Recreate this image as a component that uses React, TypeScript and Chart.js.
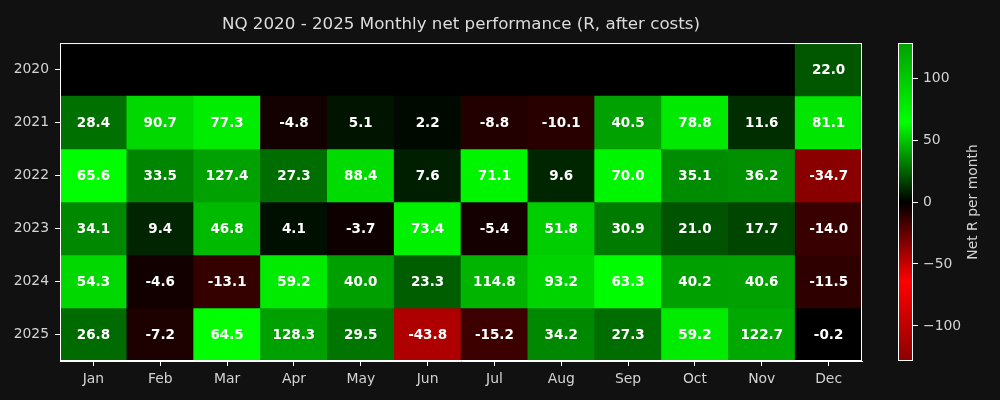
import React, { useEffect, useRef } from "react";
import { Chart, registerables } from "chart.js";

Chart.register(...registerables);

const months = ["Jan", "Feb", "Mar", "Apr", "May", "Jun", "Jul", "Aug", "Sep", "Oct", "Nov", "Dec"];
const years = ["2020", "2021", "2022", "2023", "2024", "2025"];

const r2020: (number | null)[] = [null, null, null, null, null, null, null, null, null, null, null, 22.0];
const r2021: (number | null)[] = [28.4, 90.7, 77.3, -4.8, 5.1, 2.2, -8.8, -10.1, 40.5, 78.8, 11.6, 81.1];
const r2022: (number | null)[] = [65.6, 33.5, 127.4, 27.3, 88.4, 7.6, 71.1, 9.6, 70.0, 35.1, 36.2, -34.7];
const r2023: (number | null)[] = [34.1, 9.4, 46.8, 4.1, -3.7, 73.4, -5.4, 51.8, 30.9, 21.0, 17.7, -14.0];
const r2024: (number | null)[] = [54.3, -4.6, -13.1, 59.2, 40.0, 23.3, 114.8, 93.2, 63.3, 40.2, 40.6, -11.5];
const r2025: (number | null)[] = [26.8, -7.2, 64.5, 128.3, 29.5, -43.8, -15.2, 34.2, 27.3, 59.2, 122.7, -0.2];
const rows = [r2020, r2021, r2022, r2023, r2024, r2025];

const colorbarTicks = [-100, -50, 0, 50, 100];

const VMAX = Math.max(...rows.flat().filter((v): v is number => v !== null).map((v) => Math.abs(v)));
const VMIN = -VMAX;

const STOPS: [number, number[]][] = [
  [0, [139, 0, 0]],
  [0.25, [255, 0, 0]],
  [0.5, [0, 0, 0]],
  [0.75, [0, 255, 0]],
  [1, [0, 160, 0]],
];
const STOP_HEX = ["#8b0000", "#ff0000", "#000000", "#00ff00", "#00a000"];

function colorFor(v: number | null): string {
  if (v === null) return "rgba(0,0,0,0)";
  let n = (v - VMIN) / (VMAX - VMIN);
  n = Math.max(0, Math.min(1, n));
  for (let k = 0; k < STOPS.length - 1; k++) {
    const [a, ca] = STOPS[k];
    const [b, cb] = STOPS[k + 1];
    if (n <= b) {
      const f = (n - a) / (b - a);
      const c = ca.map((x, i) => Math.round(x + (cb[i] - x) * f));
      return `rgb(${c[0]},${c[1]},${c[2]})`;
    }
  }
  return "rgb(0,160,0)";
}

const FONT = "DejaVu Sans";
const TICK_COLOR = "#d4d4d4";

export default function App() {
  const mainRef = useRef<HTMLCanvasElement>(null);
  const barRef = useRef<HTMLCanvasElement>(null);

  useEffect(() => {
    const bgPlugin = {
      id: "areaBg",
      beforeDatasetsDraw(chart: any) {
        const { ctx, chartArea: a } = chart;
        ctx.save();
        ctx.fillStyle = "#000000";
        ctx.fillRect(a.left, a.top, a.right - a.left, a.bottom - a.top);
        ctx.restore();
      },
      afterDraw(chart: any) {
        const { ctx, chartArea: a } = chart;
        ctx.save();
        ctx.strokeStyle = "#ffffff";
        ctx.lineWidth = 1;
        ctx.strokeRect(a.left + 0.5, a.top + 0.5, a.right - a.left - 1, a.bottom - a.top - 1);
        ctx.restore();
      },
    };

    const labelPlugin = {
      id: "cellLabels",
      afterDatasetsDraw(chart: any) {
        const { ctx } = chart;
        ctx.save();
        ctx.fillStyle = "#ffffff";
        ctx.font = `bold 13.5px "${FONT}"`;
        ctx.textAlign = "center";
        ctx.textBaseline = "middle";
        rows.forEach((row, i) => {
          const meta = chart.getDatasetMeta(i);
          row.forEach((v, j) => {
            if (v === null) return;
            const el: any = meta.data[j];
            if (!el) return;
            const cy = (el.y + el.base) / 2;
            ctx.fillText(v.toFixed(1), el.x, cy + 1);
          });
        });
        ctx.restore();
      },
    };

    const main = new Chart(mainRef.current!, {
      type: "bar",
      data: {
        labels: months,
        datasets: rows.map((row, i) => ({
          label: years[i],
          data: row.map((v) => (v === null ? null : [i - 0.5, i + 0.5])) as any,
          backgroundColor: row.map(colorFor),
          borderWidth: 0,
          barPercentage: 1,
          categoryPercentage: 1,
          grouped: false,
        })),
      },
      options: {
        animation: false,
        responsive: false,
        devicePixelRatio: 1,
        layout: { padding: { left: 0, right: 0, top: 0, bottom: 0 } },
        plugins: {
          legend: { display: false },
          tooltip: { enabled: false },
          title: {
            display: true,
            text: "NQ 2020 - 2025 Monthly net performance (R, after costs)",
            color: "#dddddd",
            font: { family: FONT, size: 16.7, weight: "normal" },
            padding: { top: 15, bottom: 8 },
          },
        },
        scales: {
          x: {
            type: "category",
            offset: true,
            grid: { display: true, drawOnChartArea: false, offset: false, color: "#ffffff", tickLength: 5 },
            border: { display: true, color: "#ffffff" },
            ticks: { color: TICK_COLOR, font: { family: FONT, size: 13.9 }, padding: 5 },
            afterFit(scale: any) {
              scale.height = 39;
            },
          },
          y: {
            type: "linear",
            min: -0.5,
            max: years.length - 0.5,
            reverse: true,
            grid: { display: true, drawOnChartArea: false, color: "#ffffff", tickLength: 5 },
            border: { display: true, color: "#ffffff" },
            ticks: {
              color: TICK_COLOR,
              font: { family: FONT, size: 13.9 },
              padding: 6,
              callback: (v: any) => years[v as number] ?? "",
            },
            afterBuildTicks(scale: any) {
              scale.ticks = years.map((_, i) => ({ value: i }));
            },
            afterFit(scale: any) {
              scale.width = 60;
            },
          },
          yRight: {
            type: "linear",
            position: "right",
            display: true,
            min: 0,
            max: 1,
            grid: { display: false },
            border: { display: false },
            ticks: { display: false },
            afterFit(scale: any) {
              scale.width = 60;
            },
          },
        },
      },
      plugins: [bgPlugin, labelPlugin],
    });

    const cbLabelPlugin = {
      id: "cbLabel",
      afterDraw(chart: any) {
        const { ctx, chartArea: a } = chart;
        ctx.save();
        ctx.strokeStyle = "#ffffff";
        ctx.lineWidth = 1;
        ctx.strokeRect(a.left + 0.5, a.top + 0.5, a.right - a.left - 1, a.bottom - a.top - 1);
        ctx.translate(93, (a.top + a.bottom) / 2);
        ctx.rotate(-Math.PI / 2);
        ctx.fillStyle = TICK_COLOR;
        ctx.font = `13.9px "${FONT}"`;
        ctx.textAlign = "center";
        ctx.textBaseline = "middle";
        ctx.fillText("Net R per month", 0, 0);
        ctx.restore();
      },
    };

    const bar = new Chart(barRef.current!, {
      type: "bar",
      data: {
        labels: [""],
        datasets: [
          {
            data: [[VMIN, VMAX]] as any,
            backgroundColor: (c: any) => {
              const a = c.chart.chartArea;
              if (!a) return "#000";
              const g = c.chart.ctx.createLinearGradient(0, a.bottom, 0, a.top);
              STOPS.forEach(([p], k) => g.addColorStop(p, STOP_HEX[k]));
              return g;
            },
            borderWidth: 0,
            barPercentage: 1,
            categoryPercentage: 1,
          },
        ],
      },
      options: {
        animation: false,
        responsive: false,
        devicePixelRatio: 1,
        layout: { padding: { left: 18, right: 0, top: 43, bottom: 39 } },
        plugins: { legend: { display: false }, tooltip: { enabled: false } },
        scales: {
          x: { display: false },
          y: {
            type: "linear",
            position: "right",
            min: VMIN,
            max: VMAX,
            grid: { display: true, drawOnChartArea: false, color: "#ffffff", tickLength: 5 },
            border: { display: false },
            ticks: {
              color: TICK_COLOR,
              font: { family: FONT, size: 13.9 },
              padding: 5,
              callback: (v: any) => (v < 0 ? "\u2212" + Math.abs(v) : String(v)),
            },
            afterBuildTicks(scale: any) {
              scale.ticks = colorbarTicks.map((v) => ({ value: v }));
            },
            afterFit(scale: any) {
              scale.width = 87;
            },
          },
        },
      },
      plugins: [cbLabelPlugin],
    });

    return () => {
      main.destroy();
      bar.destroy();
    };
  }, []);

  return (
    <div style={{ position: "fixed", left: 0, top: 0, width: 1000, height: 400, background: "#111111", overflow: "hidden" }}>
      <canvas ref={mainRef} width={922} height={400} style={{ position: "absolute", left: 0, top: 0 }} />
      <canvas ref={barRef} width={120} height={400} style={{ position: "absolute", left: 880, top: 0 }} />
    </div>
  );
}
